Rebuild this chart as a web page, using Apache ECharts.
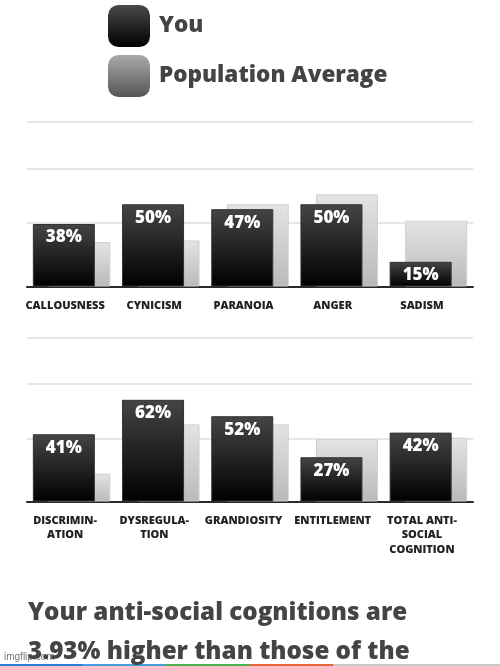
<!DOCTYPE html>
<html>
<head>
<meta charset="utf-8">
<script src="https://cdn.jsdelivr.net/npm/echarts@6/dist/echarts.min.js"></script>
<style>
  html, body { margin: 0; padding: 0; background: #fff; }
  #main { width: 500px; height: 666px; }
</style>
</head>
<body>
<div id="main"></div>
<script>
// values
var categoriesTop = ["CALLOUSNESS", "CYNICISM", "PARANOIA", "ANGER", "SADISM"];
var youTop = [38, 50, 47, 50, 15];
var popTop = [27, 28, 50, 56, 40];

var categoriesBottom = ["DISCRIMIN-\nATION", "DYSREGULA-\nTION", "GRANDIOSITY", "ENTITLEMENT", "TOTAL ANTI-\nSOCIAL\nCOGNITION"];
var youBottom = [41, 62, 52, 27, 42];
var popBottom = [17, 47, 47, 38, 39];

var gridValues = [38.5, 71.5, 100];
var summary = ["Your anti-social cognitions are", "3.93% higher than those of the"];

var font = "'Open Sans', 'DejaVu Sans', sans-serif";
var heavy = 800;

var youColor = new echarts.graphic.LinearGradient(0, 0, 0, 1, [
  { offset: 0, color: "#454545" },
  { offset: 1, color: "#000" }
]);
var popColor = new echarts.graphic.LinearGradient(0, 0, 0, 1, [
  { offset: 0, color: "#e4e4e4" },
  { offset: 1, color: "#b9b9b9" }
]);

function xAxisFor(idx, data) {
  return {
    type: "category",
    gridIndex: idx,
    data: data,
    axisTick: { show: false },
    axisLine: { lineStyle: { color: "#2a2a2a", width: 2 } },
    axisLabel: {
      interval: 0,
      margin: 12,
      color: "#222",
      fontFamily: font,
      fontWeight: heavy,
      fontSize: 11,
      lineHeight: 14.5,
      align: "center",
      padding: [0, 13, 0, 0]
    }
  };
}

function yAxisFor(idx) {
  return {
    type: "value",
    gridIndex: idx,
    min: 0,
    max: 100,
    show: false,
    splitLine: { show: false }
  };
}

function youSeries(idx, data) {
  return {
    name: "You",
    type: "bar",
    xAxisIndex: idx,
    yAxisIndex: idx,
    data: data,
    barWidth: 62,
    barGap: "-75%",
    z: 3,
    itemStyle: { color: youColor, borderColor: "#333", borderWidth: 1 },
    label: {
      show: true,
      position: "insideTop",
      distance: 5,
      formatter: "{c}%",
      color: "#fff",
      fontFamily: font,
      fontWeight: heavy,
      fontSize: 17
    }
  };
}

function popSeries(idx, data) {
  return {
    name: "Population Average",
    type: "bar",
    xAxisIndex: idx,
    yAxisIndex: idx,
    data: data,
    barWidth: 62,
    z: 2,
    itemStyle: { color: popColor, borderColor: "#cfcfcf", borderWidth: 1 },
    markLine: {
      silent: true,
      z: 1,
      symbol: "none",
      label: { show: false },
      lineStyle: { color: "#dedede", width: 1.5, type: "solid" },
      data: gridValues.map(function (v) { return { yAxis: v }; })
    }
  };
}

var myChart = echarts.init(document.getElementById("main"));
myChart.setOption({
  backgroundColor: "#fff",
  animation: false,
  legend: {
    orient: "vertical",
    left: 108,
    top: 5,
    padding: 0,
    itemWidth: 42,
    itemHeight: 42,
    itemGap: 8,
    icon: "roundRect",
    textStyle: {
      color: "#444",
      fontFamily: font,
      fontWeight: heavy,
      fontSize: 22.5,
      padding: [8, 0, 0, 4]
    },
    data: [
      {
        name: "You",
        itemStyle: {
          borderWidth: 0,
          color: new echarts.graphic.LinearGradient(0, 0, 0, 1, [
            { offset: 0, color: "#4a4a4a" },
            { offset: 1, color: "#000" }
          ])
        }
      },
      {
        name: "Population Average",
        itemStyle: {
          borderWidth: 0,
          color: new echarts.graphic.LinearGradient(0, 0, 0, 1, [
            { offset: 0, color: "#aaa" },
            { offset: 1, color: "#555" }
          ])
        }
      }
    ]
  },
  title: {
    left: 28,
    top: 593,
    padding: 0,
    text: summary.join("\n"),
    textStyle: {
      color: "#444",
      fontFamily: font,
      fontWeight: heavy,
      fontSize: 24.2,
      lineHeight: 39.5
    }
  },
  grid: [
    { left: 27, right: 27, top: 122, bottom: 379.5 },
    { left: 27, right: 27, top: 337.5, bottom: 164.5 }
  ],
  xAxis: [xAxisFor(0, categoriesTop), xAxisFor(1, categoriesBottom)],
  yAxis: [yAxisFor(0), yAxisFor(1)],
  series: [
    youSeries(0, youTop),
    popSeries(0, popTop),
    youSeries(1, youBottom),
    popSeries(1, popBottom)
  ],
  graphic: [
    { type: "rect", left: 0, top: 664, shape: { width: 83, height: 2 }, style: { fill: "#2a7fd4" } },
    { type: "rect", left: 83, top: 664, shape: { width: 83, height: 2 }, style: { fill: "#3fa0e0" } },
    { type: "rect", left: 166, top: 664, shape: { width: 84, height: 2 }, style: { fill: "#4cb050" } },
    { type: "rect", left: 250, top: 664, shape: { width: 83, height: 2 }, style: { fill: "#e8663b" } },
    { type: "rect", left: 333, top: 664, shape: { width: 167, height: 2 }, style: { fill: "#c8c8c8" } },
    {
      type: "text",
      left: 4,
      top: 652,
      style: { text: "imgflip.com", fill: "#777", font: "10px 'Liberation Sans', sans-serif" }
    }
  ]
});
</script>
</body>
</html>
